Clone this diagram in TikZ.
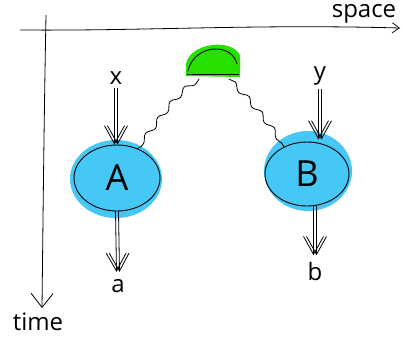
\documentclass[tikz,border=0pt]{standalone}
\usepackage{fontspec}
\setmainfont{Open Sans}
\usetikzlibrary{arrows.meta,shapes.geometric,decorations.pathmorphing}
\definecolor{hlblue}{HTML}{45C8F5}
\definecolor{hlgreen}{HTML}{26E000}
\tikzset{
  axis/.style={line width=0.8pt},
  dbl/.style={line width=0.8pt,-{Straight Barb[length=18pt,width=20pt]}},
  blob/.style={ellipse,draw,line width=0.9pt,inner sep=0pt},
  lbl/.style={font=\fontsize{24}{24}\selectfont},
  big/.style={font=\fontsize{36}{36}\selectfont},
  wiggle/.style={line width=0.8pt,decorate,decoration={snake,amplitude=2.5pt,segment length=20pt}},
}
\newcommand\dblarr[2]{%
  \draw[dbl,transform canvas={xshift=-1.5pt}] #1 -- #2;
  \draw[dbl,transform canvas={xshift=1.5pt}] #1 -- #2;}
\begin{document}
\begin{tikzpicture}[x=1pt,y=-1pt]
\useasboundingbox (0,0) rectangle (403,341);
% axes
\coordinate (hs) at (20,30);
\coordinate (he) at (400,28);
\coordinate (vs) at (46,15);
\coordinate (ve) at (42,308);
\draw[axis,-{Straight Barb[length=7pt,width=10pt]}] (hs) .. controls (150,31) and (250,24) .. (he);
\draw[axis,-{Straight Barb[length=14pt,width=22pt]}] (vs) .. controls (44,120) and (43,220) .. (ve);
\node[lbl] (space) at (364,14) {space};
\node[lbl] (time) at (38,322) {time};
% highlights
\fill[hlblue] (116,179) ellipse[x radius=46,y radius=39];
\fill[hlblue] (308,171) ellipse[x radius=44,y radius=40];
\fill[hlgreen] (186,76) -- (186,64) .. controls (190,42) and (234,38) .. (240,56) -- (240,77) -- cycle;
% green cap
\node[minimum width=52pt,minimum height=26pt,inner sep=0pt] (g) at (213,61) {};
\draw[line width=0.9pt] (g.south west) ++(1,-3) .. controls (194,44) and (232,42) .. (237,64);
\draw[line width=0.9pt] (g.south west) -- (g.south east);
% nodes
\node[blob,minimum width=86pt,minimum height=66pt,big] (A) at (117,178) {A};
\node[blob,minimum width=84pt,minimum height=64pt,big] (B) at (307,174) {B};
\node[lbl] (xl) at (116,78) {x};
\node[lbl] (yl) at (320,76) {y};
\node[lbl] (al) at (118,286) {a};
\node[lbl] (bl) at (315,271) {b};
% arrows
\dblarr{(xl.south)}{(xl.south |- A.north)}
\dblarr{(yl.south)}{([yshift=2pt]yl.south |- B.north)}
\dblarr{(A.south)}{([yshift=4pt]al.north)}
\dblarr{(bl |- B.south)}{([yshift=3pt]bl.north)}
% wiggly connectors
\draw[wiggle] ([shift={(-14,5)}]g.south) .. controls (175,95) and (160,125) .. (A.55);
\draw[wiggle] ([shift={(16,5)}]g.south) .. controls (250,100) and (265,120) .. (B.130);
\end{tikzpicture}
\end{document}
